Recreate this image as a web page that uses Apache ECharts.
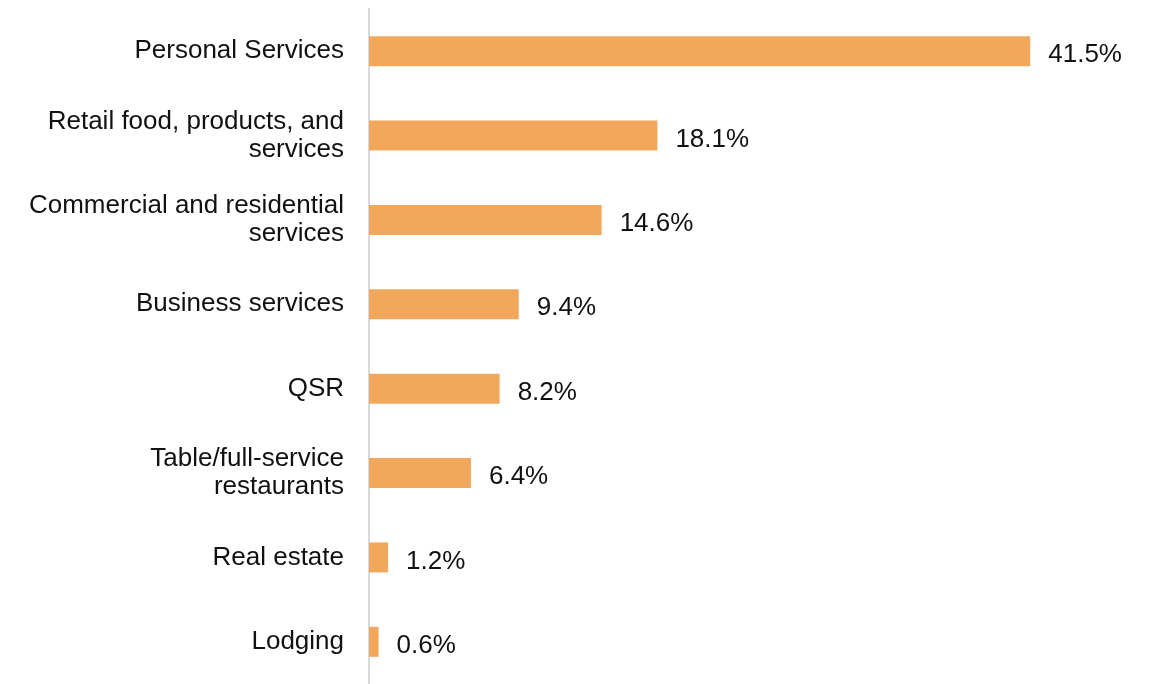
<!DOCTYPE html>
<html>
<head>
<meta charset="utf-8">
<script src="https://cdn.jsdelivr.net/npm/echarts@6/dist/echarts.min.js"></script>
<style>
  html, body { margin: 0; padding: 0; background: #fff; }
  #chart { width: 1151px; height: 684px; }
</style>
</head>
<body>
<div id="chart"></div>
<script>
// Share of units by business category (%)
const categories = [
  'Personal Services',
  'Retail food, products, and\nservices',
  'Commercial and residential\nservices',
  'Business services',
  'QSR',
  'Table/full-service\nrestaurants',
  'Real estate',
  'Lodging'
];
const shares = [41.5, 18.1, 14.6, 9.4, 8.2, 6.4, 1.2, 0.6];

const chart = echarts.init(document.getElementById('chart'), null, { renderer: 'canvas' });
chart.setOption({
  animation: false,
  backgroundColor: '#ffffff',
  textStyle: { fontFamily: '"Liberation Sans", Arial, sans-serif' },
  grid: { left: 369, top: 9, width: 717, height: 680 },
  xAxis: {
    type: 'value',
    min: 0,
    max: 45,
    show: false
  },
  yAxis: {
    type: 'category',
    inverse: true,
    data: categories,
    axisLine: { show: true, lineStyle: { color: '#d9d9d9', width: 2 } },
    axisTick: { show: false },
    axisLabel: {
      color: '#111111',
      fontSize: 26,
      lineHeight: 28,
      margin: 25,
      align: 'right',
      padding: [8, 0, 0, 0]
    }
  },
  series: [{
    type: 'bar',
    data: shares,
    barWidth: 30,
    itemStyle: { color: '#f2a85c' },
    label: {
      show: true,
      position: 'right',
      distance: 18,
      offset: [0, 4],
      color: '#111111',
      fontSize: 26,
      formatter: p => p.value.toFixed(1) + '%'
    }
  }]
});
</script>
</body>
</html>
